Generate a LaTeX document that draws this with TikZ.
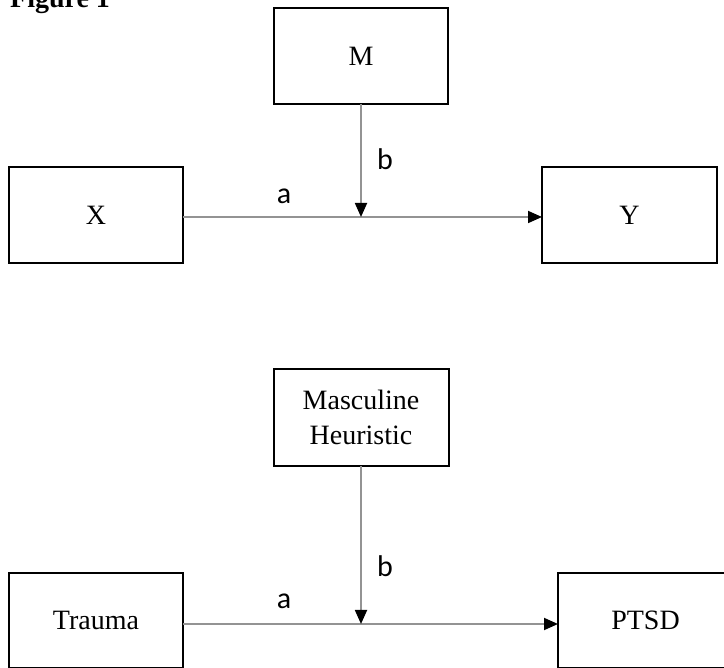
\documentclass[tikz,border=0pt]{standalone}
\usepackage{fontspec}
\setmainfont{Liberation Serif}
\newfontfamily\labfont{Carlito}
\usetikzlibrary{arrows.meta}
\begin{document}
\begin{tikzpicture}[x=1pt,y=-1pt,
  varbox/.style={draw=black,line width=2pt,fill=white,inner sep=0pt,outer sep=0pt,
    minimum width=174pt,minimum height=96pt,align=center,
    font=\fontsize{28}{35}\selectfont},
  path/.style={draw=gray!85,line width=1.8pt,
    -{Triangle[length=14pt,width=12pt,color=black]}},
  pathlab/.style={font=\labfont\fontsize{30}{34}\selectfont,inner sep=0pt}]
\useasboundingbox (0,0) rectangle (724,668);
\begin{scope}
\clip (0,0) rectangle (724,668);
\node[anchor=base west,inner sep=0pt,font=\bfseries\fontsize{28}{32}\selectfont] (title) at (10,8) {Figure 1};
% top model
\node[varbox] (M) at (361,56) {M};
\node[varbox] (X) at (96,215) {X};
\node[varbox,minimum width=175pt] (Y) at (629.5,215) {Y};
\coordinate (S1) at ([yshift=-2pt]X.east);
\coordinate (E1) at ([yshift=-2pt]Y.west);
\coordinate (J1) at (M.south |- S1);
\draw[path] (S1) -- (E1);
\draw[path] (M.south) -- (J1);
\node[pathlab] (a1) at (284,196) {a};
\node[pathlab] (b1) at (385,159) {b};
% bottom model
\node[varbox,minimum width=175pt,minimum height=97pt] (MH) at (361,417.5) {Masculine\\Heuristic};
\node[varbox,minimum height=95pt] (T) at (96,620.5) {Trauma};
\node[varbox,minimum width=175pt,minimum height=95pt] (P) at (645.5,620.5) {PTSD};
\coordinate (S2) at ([yshift=-3.5pt]T.east);
\coordinate (E2) at ([yshift=-3.5pt]P.west);
\coordinate (J2) at (MH.south |- S2);
\draw[path] (S2) -- (E2);
\draw[path] (MH.south) -- (J2);
\node[pathlab] (a2) at (284,601) {a};
\node[pathlab] (b2) at (385,566) {b};
\end{scope}
\end{tikzpicture}
\end{document}
